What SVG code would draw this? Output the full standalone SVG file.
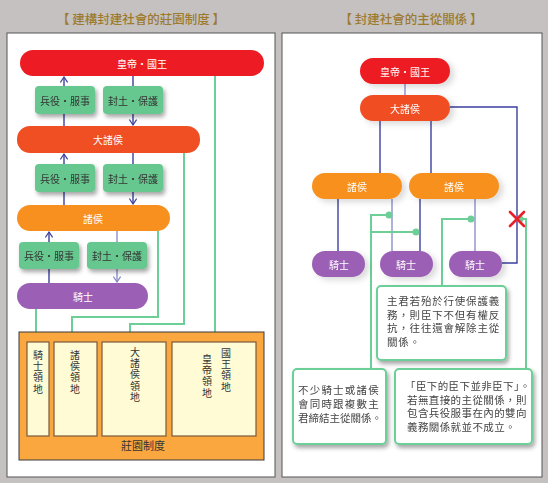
<svg xmlns="http://www.w3.org/2000/svg" width="548" height="483" viewBox="0 0 548 483">
<style>
text{font-family:"Noto Sans CJK TC","Noto Sans CJK SC",sans-serif;}
.title{font-size:12.5px;fill:#9c7a2e;text-anchor:middle;font-weight:500;}
.nt{font-size:10px;fill:#fff;text-anchor:middle;dominant-baseline:central;}
.gt{font-size:10px;fill:#333;text-anchor:middle;dominant-baseline:central;}
.vt{font-size:10px;fill:#333;writing-mode:vertical-rl;text-orientation:upright;letter-spacing:1.3px;}
.mt{font-size:11px;fill:#333;text-anchor:middle;}
.note{font-size:10.5px;fill:#444;}
.blue{stroke:#3b3f9c;stroke-width:1.4;fill:none;}
.lblue{stroke:#8e90cc;stroke-width:1.4;fill:none;}
.green{stroke:#6ccf97;stroke-width:2;fill:none;}
.gbox{fill:#66c78f;}
.land{fill:#fffbd4;stroke:#7a5a3a;stroke-width:1.2;}
.notebox{fill:#fff;stroke:#6ccf97;stroke-width:2;}
</style>
<defs>
<filter id="sh" x="-20%" y="-20%" width="150%" height="160%">
<feDropShadow dx="2" dy="3" stdDeviation="2" flood-color="#000" flood-opacity="0.35"/>
</filter>
<filter id="sh2" x="-20%" y="-30%" width="150%" height="180%">
<feDropShadow dx="4" dy="3" stdDeviation="3" flood-color="#000" flood-opacity="0.15"/>
</filter>
<marker id="ar" viewBox="0 0 10 10" refX="9" refY="5" markerWidth="9" markerHeight="9" markerUnits="userSpaceOnUse" orient="auto">
<path d="M3,1 L9,5 L3,9" fill="none" stroke="#3b3f9c" stroke-width="1.3"/>
</marker>
<marker id="arl" viewBox="0 0 10 10" refX="9" refY="5" markerWidth="9" markerHeight="9" markerUnits="userSpaceOnUse" orient="auto">
<path d="M3,1 L9,5 L3,9" fill="none" stroke="#7f82c4" stroke-width="1.3"/>
</marker>
</defs>
<rect x="0" y="0" width="548" height="483" fill="#c5c1c0"/>
<text class="title" x="141" y="24">【 建構封建社會的莊園制度 】</text>
<text class="title" x="411" y="24">【 封建社會的主從關係 】</text>
<rect x="7" y="33" width="268" height="444" fill="#fff" stroke="#555" stroke-width="1"/>
<rect x="282" y="33" width="260" height="444" fill="#fff" stroke="#555" stroke-width="1"/>

<!-- LEFT connectors -->
<g id="left-connectors">
<line class="blue" x1="64" y1="126" x2="64" y2="77" marker-end="url(#ar)"/>
<line class="blue" x1="133" y1="76" x2="133" y2="125" marker-end="url(#ar)"/>
<line class="blue" x1="64" y1="205" x2="64" y2="154" marker-end="url(#ar)"/>
<line class="blue" x1="133" y1="153" x2="133" y2="204" marker-end="url(#ar)"/>
<line class="blue" x1="49" y1="283" x2="49" y2="232" marker-end="url(#ar)"/>
<line class="lblue" x1="117" y1="231" x2="117" y2="282" marker-end="url(#arl)"/>
<polyline class="green" points="36,309 36,342"/>
<polyline class="green" points="158,231 158,317 72,317 72,342"/>
<polyline class="green" points="184,152 184,324 130,324 130,342"/>
<polyline class="green" points="215,76 215,342"/>
</g>

<g id="l-emperor"><rect x="20" y="50" width="244" height="26" rx="13" fill="#ed1c24"/><text class="nt" x="142" y="63">皇帝・國王</text></g>
<g id="l-g1a" filter="url(#sh)"><rect class="gbox" x="35" y="86" width="60" height="28" rx="4"/><text class="gt" x="65" y="100">兵役・服事</text></g>
<g id="l-g1b" filter="url(#sh)"><rect class="gbox" x="103" y="86" width="60" height="28" rx="4"/><text class="gt" x="133" y="100">封土・保護</text></g>
<g id="l-greatlord"><rect x="17" y="126" width="183" height="27" rx="13" fill="#f04e23"/><text class="nt" x="108" y="139.5">大諸侯</text></g>
<g id="l-g2a" filter="url(#sh)"><rect class="gbox" x="35" y="164" width="60" height="28" rx="4"/><text class="gt" x="65" y="178">兵役・服事</text></g>
<g id="l-g2b" filter="url(#sh)"><rect class="gbox" x="103" y="164" width="60" height="28" rx="4"/><text class="gt" x="133" y="178">封土・保護</text></g>
<g id="l-lord"><rect x="17" y="205" width="153" height="26" rx="13" fill="#f7901e"/><text class="nt" x="93" y="218">諸侯</text></g>
<g id="l-g3a" filter="url(#sh)"><rect class="gbox" x="19" y="242" width="60" height="27" rx="4"/><text class="gt" x="49" y="255.5">兵役・服事</text></g>
<g id="l-g3b" filter="url(#sh)"><rect class="gbox" x="87" y="242" width="60" height="27" rx="4"/><text class="gt" x="117" y="255.5">封土・保護</text></g>
<g id="l-knight"><rect x="17" y="283" width="131" height="26" rx="13" fill="#9b5fb5"/><text class="nt" x="83" y="296">騎士</text></g>

<g id="manor">
<rect x="19" y="332" width="245" height="128" fill="#f9a73e" stroke="#3a3a3a" stroke-width="1"/>
<rect class="land" x="27" y="342" width="22" height="94"/>
<rect class="land" x="54" y="342" width="43" height="94"/>
<rect class="land" x="102" y="342" width="64" height="94"/>
<rect class="land" x="172" y="342" width="84" height="94"/>
<text class="vt" x="38" y="350">騎士領地</text>
<text class="vt" x="75" y="350">諸侯領地</text>
<text class="vt" x="135" y="347">大諸侯領地</text>
<text class="vt" x="207" y="354">皇帝領地</text>
<text class="vt" x="226" y="348">國王領地</text>
<text class="mt" x="143" y="450">莊園制度</text>
</g>

<!-- RIGHT connectors -->
<g id="right-connectors">
<line class="lblue" x1="405" y1="84" x2="405" y2="95"/>
<line class="blue" x1="380" y1="121" x2="380" y2="173"/>
<line class="blue" x1="431" y1="121" x2="431" y2="173"/>
<polyline class="blue" points="450,107 517,107 517,263 502,263"/>
<line class="blue" x1="338" y1="199" x2="338" y2="251"/>
<line class="lblue" x1="392" y1="199" x2="392" y2="251"/>
<line class="blue" x1="420" y1="199" x2="420" y2="251"/>
<line class="lblue" x1="475" y1="199" x2="475" y2="251"/>
<polyline class="green" points="389,215 371,215 371,369"/>
<polyline class="green" points="371,232 416,232"/>
<polyline class="green" points="471,219 442,219 442,286"/>
<polyline class="green" points="520,219 526,219 526,369"/>
<circle cx="389" cy="215" r="3.5" fill="#6ccf97"/>
<circle cx="416" cy="232" r="3.5" fill="#6ccf97"/>
<circle cx="471" cy="219" r="3.5" fill="#6ccf97"/>
<circle cx="520" cy="219" r="3.5" fill="#6ccf97"/>
<g id="cross" stroke="#e8202a" stroke-width="2.6" stroke-linecap="round"><line x1="510" y1="212" x2="524" y2="226"/><line x1="524" y1="212" x2="510" y2="226"/></g>
</g>

<g id="r-emperor" filter="url(#sh2)"><rect x="360" y="58" width="90" height="26" rx="13" fill="#ed1c24"/><text class="nt" x="405" y="71">皇帝・國王</text></g>
<g id="r-greatlord" filter="url(#sh2)"><rect x="360" y="95" width="90" height="26" rx="13" fill="#f04e23"/><text class="nt" x="405" y="108">大諸侯</text></g>
<g id="r-lord1" filter="url(#sh2)"><rect x="312" y="173" width="90" height="26" rx="13" fill="#f7901e"/><text class="nt" x="357" y="186">諸侯</text></g>
<g id="r-lord2" filter="url(#sh2)"><rect x="409" y="173" width="90" height="26" rx="13" fill="#f7901e"/><text class="nt" x="454" y="186">諸侯</text></g>
<g id="r-knight1" filter="url(#sh2)"><rect x="312" y="251" width="53" height="26" rx="13" fill="#9b5fb5"/><text class="nt" x="339" y="264">騎士</text></g>
<g id="r-knight2" filter="url(#sh2)"><rect x="380" y="251" width="53" height="26" rx="13" fill="#9b5fb5"/><text class="nt" x="406" y="264">騎士</text></g>
<g id="r-knight3" filter="url(#sh2)"><rect x="449" y="251" width="53" height="26" rx="13" fill="#9b5fb5"/><text class="nt" x="475" y="264">騎士</text></g>

<g id="note1" filter="url(#sh)">
<rect class="notebox" x="377" y="286" width="129" height="74" rx="4"/>
<text class="note" x="387" y="305" letter-spacing="0.8"><tspan x="387">主君若殆於行使保護義</tspan><tspan x="387" dy="13.5">務，則臣下不但有權反</tspan><tspan x="387" dy="13.5">抗，往往還會解除主從</tspan><tspan x="387" dy="13.5">關係。</tspan></text>
</g>
<g id="note2" filter="url(#sh)">
<rect class="notebox" x="293" y="369" width="93" height="75" rx="4"/>
<text class="note" x="298" y="394"><tspan x="298" letter-spacing="1.2">不少騎士或諸侯</tspan><tspan x="298" dy="14" letter-spacing="1.2">會同時跟複數主</tspan><tspan x="298" dy="14" letter-spacing="0">君締結主從關係。</tspan></text>
</g>
<g id="note3" filter="url(#sh)">
<rect class="notebox" x="395" y="369" width="137" height="75" rx="4"/>
<text class="note" x="407" y="390" letter-spacing="0.4"><tspan x="405">「臣下的臣下並非臣下」。</tspan><tspan x="407" dy="13.5">若無直接的主從關係，則</tspan><tspan x="407" dy="13.5">包含兵役服事在內的雙向</tspan><tspan x="407" dy="13.5">義務關係就並不成立。</tspan></text>
</g>
</svg>
